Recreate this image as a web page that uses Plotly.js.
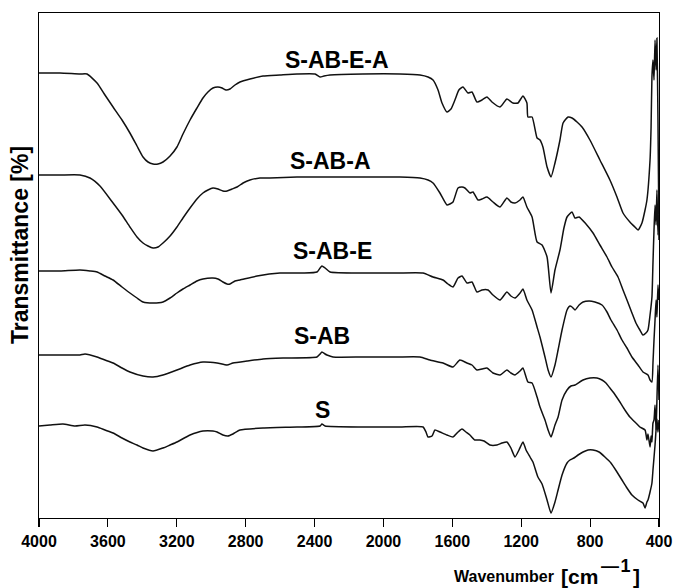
<!DOCTYPE html>
<html>
<head>
<meta charset="utf-8">
<script src="https://cdn.plot.ly/plotly-3.0.1.min.js"></script>
<style>
  html, body { margin: 0; padding: 0; background: #fff; }
  #chart { width: 676px; height: 588px; }
</style>
</head>
<body>
<div id="chart"></div>
<script>
// FTIR spectra, stacked with vertical offsets (transmittance, arbitrary units)

const wnA = [4000,3878,3762,3721,3663,3617,3570,3518,3472,3431,3396,3367,3338,3309,3280,3239,3199,3164,3123,3083,3048,3019,2990,2961,2937,2914,2891,2862,2833,2775,2699,2601,2502,2397,2368,2345,2310,2119,1904,1788,1741,1712,1683,1660,1631,1608,1585,1562,1538,1509,1486,1457,1428,1399,1370,1323,1283,1248,1219,1190,1167,1161,1137,1108,1091,1074,1050,1027,1004,975,957,928,905,876,847,801,743,685,644,609,569,540,522,499,481,470,452,446,441,435,429,423,417,412,406,400];
const tA  = [89.0,89.0,88.8,88.8,87.0,84.6,82.2,79.6,77.0,74.4,72.2,71.2,70.8,70.8,71.2,72.4,74.2,76.8,79.6,82.0,84.0,85.2,86.0,86.2,86.0,85.6,85.8,86.6,87.2,87.8,88.4,88.6,88.8,88.8,88.2,88.4,88.6,88.8,88.8,88.6,88.2,87.6,85.6,83.0,81.2,81.8,83.6,85.6,86.2,85.0,85.2,83.2,83.6,84.2,83.2,82.2,83.8,83.0,83.0,84.4,83.0,80.2,80.2,76.0,75.6,74.2,70.2,68.2,71.0,75.6,79.0,80.2,80.0,79.2,78.2,75.6,71.6,67.6,64.2,61.0,59.2,58.2,57.6,59.0,61.6,63.6,71.6,78.2,88.2,91.6,87.6,95.6,89.6,96.0,79.6,55.6];

const wnB = [4000,3878,3762,3704,3646,3570,3518,3472,3431,3396,3367,3338,3309,3280,3239,3199,3164,3123,3083,3048,3019,2990,2961,2932,2908,2879,2850,2815,2775,2717,2659,2502,2310,2119,1904,1788,1741,1712,1672,1631,1614,1596,1567,1544,1527,1498,1480,1451,1428,1399,1364,1323,1283,1260,1236,1207,1190,1167,1137,1108,1079,1050,1027,1004,975,952,934,905,888,864,824,783,743,702,673,638,609,586,557,534,511,493,476,464,452,441,435,429,423,417,412,406,400];
const tB  = [68.6,68.6,68.6,68.0,66.4,63.0,60.6,58.2,56.2,55.0,54.4,54.0,54.2,55.0,56.4,58.2,60.0,62.0,63.8,65.0,65.6,66.0,65.8,65.4,65.4,65.8,66.2,67.0,67.6,68.0,68.0,68.2,68.2,68.2,68.2,68.0,67.6,67.0,65.0,62.6,62.8,63.2,66.0,66.2,66.0,65.0,65.2,63.6,63.8,64.2,63.2,62.2,64.0,63.2,63.0,63.6,64.2,62.2,60.2,55.2,54.6,52.2,45.0,49.6,53.6,58.0,60.2,61.2,60.0,60.2,58.8,57.0,54.6,52.2,50.2,48.2,45.6,43.6,41.0,39.0,37.6,36.6,37.0,37.6,40.6,44.2,51.0,57.6,62.6,58.6,65.6,56.6,60.6];

const wnC = [4000,3878,3762,3704,3663,3617,3570,3518,3472,3431,3396,3338,3280,3239,3199,3164,3123,3083,3048,2990,2961,2932,2908,2891,2862,2833,2734,2601,2467,2386,2368,2357,2339,2310,2119,1921,1770,1712,1654,1625,1596,1567,1544,1515,1486,1457,1428,1393,1364,1323,1283,1260,1236,1207,1190,1167,1137,1108,1091,1062,1044,1027,1004,986,963,934,917,905,888,864,841,806,772,731,702,679,644,615,586,557,522,493,464,452,441,435,429,423,417,412,406,400];
const tC  = [49.4,49.4,49.6,49.4,49.2,48.4,47.6,46.2,45.0,44.0,43.2,43.0,43.2,44.0,45.0,45.8,46.6,47.4,47.8,48.0,47.8,47.2,46.8,46.8,47.4,47.6,48.4,49.0,49.0,49.2,50.0,50.4,50.0,49.2,49.0,49.0,49.0,48.2,47.6,46.8,46.2,48.0,48.4,47.0,47.2,45.2,45.6,45.6,44.6,43.6,45.2,44.4,44.0,45.0,45.8,43.6,41.6,38.2,36.2,32.2,29.6,28.2,30.6,33.6,37.6,41.6,42.4,42.2,41.6,42.6,43.2,43.4,43.2,42.6,41.2,39.6,37.6,35.6,34.0,32.2,30.6,29.2,28.6,27.6,27.2,31.0,35.6,39.6,43.6,40.2,46.6,43.6];

const wnD = [4000,3878,3762,3733,3663,3617,3570,3518,3472,3396,3338,3280,3199,3123,3048,2966,2908,2874,2792,2699,2583,2386,2368,2357,2339,2328,2293,2119,1921,1788,1730,1654,1596,1556,1515,1486,1457,1428,1399,1364,1323,1283,1260,1236,1207,1190,1161,1137,1108,1091,1062,1044,1027,1004,986,963,934,911,888,841,801,760,731,708,685,662,627,598,569,534,511,481,470,464,452,446,441,435,429,423,417,412,406,400];
const tD  = [32.6,32.6,32.6,32.8,32.2,31.6,31.0,30.0,29.2,28.4,28.2,28.6,29.6,30.6,31.2,31.0,30.6,31.0,31.4,31.8,32.0,32.2,32.8,33.2,32.8,32.6,32.2,32.2,32.2,32.2,31.6,31.0,30.2,31.6,31.0,30.6,29.6,29.8,30.0,29.0,28.6,29.6,29.0,28.6,29.4,30.0,27.2,27.0,24.2,22.2,19.6,17.6,16.2,18.6,20.2,23.6,25.6,26.4,26.6,27.6,28.0,28.0,27.6,27.0,26.0,25.0,23.2,21.6,20.2,19.0,18.2,17.6,15.6,16.8,14.2,16.4,15.2,19.0,19.6,22.6,17.6,23.6,30.6,23.6];

const wnE = [4000,3936,3861,3791,3733,3663,3617,3570,3518,3472,3431,3396,3338,3280,3239,3199,3123,3048,2990,2966,2932,2903,2874,2833,2699,2502,2368,2357,2339,2119,1904,1770,1753,1741,1718,1701,1672,1631,1596,1567,1544,1521,1498,1469,1440,1416,1382,1341,1312,1283,1260,1236,1213,1190,1172,1149,1132,1103,1079,1050,1027,1004,986,963,934,917,894,870,841,812,783,748,714,679,644,615,586,557,522,493,481,470,464,452,441,435,423,412,406,400];
const tE  = [18.4,18.6,18.8,18.4,18.6,18.2,17.6,17.0,16.0,15.2,14.6,14.0,13.4,14.0,14.6,15.2,16.6,17.4,17.4,17.2,16.6,16.4,16.8,17.6,18.0,18.2,18.4,18.8,18.4,18.2,18.2,18.2,17.2,16.2,16.4,17.6,17.2,16.6,16.2,17.2,17.8,17.2,16.6,15.6,15.6,15.4,14.6,14.6,15.0,15.2,14.0,12.2,13.6,15.2,13.6,12.2,11.2,8.2,6.8,3.6,1.0,3.2,5.6,8.6,11.0,11.6,12.0,12.6,13.2,13.6,13.6,13.2,12.2,11.0,9.2,7.6,6.0,4.6,3.6,3.0,2.0,3.2,3.6,5.2,7.0,9.6,14.6,19.8,17.2,19.6];

const sampleNames = ['S-AB-E-A', 'S-AB-A', 'S-AB-E', 'S-AB', 'S'];
const xTicks = [4000, 3600, 3200, 2800, 2400, 2000, 1600, 1200, 800, 400];

const spectra = [[wnA, tA], [wnB, tB], [wnC, tC], [wnD, tD], [wnE, tE]];
// label anchor (wavenumber, transmittance) for each sample name
const labelAt = [[2270, 91.6], [2305, 71.4], [2293, 53.4], [2357, 36.4], [2351, 21.6]];

const traces = spectra.map(([x, y], i) => ({
  type: 'scatter', mode: 'lines', x: x, y: y, name: sampleNames[i],
  line: { color: '#111', width: 1.5, shape: 'spline', smoothing: 0.5 },
  hoverinfo: 'skip'
}));

const FAM = 'Liberation Sans, Arial, sans-serif';
const annotations = sampleNames.map((n, i) => ({
  x: labelAt[i][0], y: labelAt[i][1], xref: 'x', yref: 'y',
  text: '<b>' + n + '</b>', showarrow: false,
  font: { family: FAM, size: 23, color: '#000' },
  xanchor: 'center', yanchor: 'middle'
}));

// plot area in pixels: left 39, right 659, top 13, bottom 518
const px = v => (v - 39) / 620;
const py = v => (518 - v) / 505;

annotations.push({
  xref: 'paper', yref: 'paper', x: px(20), y: py(245), xanchor: 'center', yanchor: 'middle',
  text: '<b>Transmittance [%]</b>', textangle: -90, showarrow: false,
  font: { family: FAM, size: 23, color: '#000' }
});
// x-axis title, assembled from pieces so the unit can carry a full-size exponent
annotations.push({
  xref: 'paper', yref: 'paper', x: px(452), y: py(576), xanchor: 'left', yanchor: 'middle',
  text: '<b>Wavenumber</b>', showarrow: false, font: { family: FAM, size: 16, color: '#000' }
});
annotations.push({
  xref: 'paper', yref: 'paper', x: px(559), y: py(576), xanchor: 'left', yanchor: 'middle',
  text: '<b>[cm</b>', showarrow: false, font: { family: FAM, size: 21, color: '#000' }
});
annotations.push({
  xref: 'paper', yref: 'paper', x: px(599), y: py(566), xanchor: 'left', yanchor: 'middle',
  text: '<b>\u2014\u200a1</b>', showarrow: false, font: { family: FAM, size: 18, color: '#000' }
});
annotations.push({
  xref: 'paper', yref: 'paper', x: px(631), y: py(576), xanchor: 'left', yanchor: 'middle',
  text: '<b>]</b>', showarrow: false, font: { family: FAM, size: 21, color: '#000' }
});

const layout = {
  width: 676, height: 588,
  margin: { l: 39, r: 17, t: 13, b: 70 },
  paper_bgcolor: '#fff', plot_bgcolor: '#fff',
  showlegend: false,
  xaxis: {
    range: [4000, 400], tickvals: xTicks, ticktext: xTicks.map(String),
    ticks: 'outside', ticklen: 8, tickwidth: 1.2, tickcolor: '#000',
    showline: true, linecolor: '#000', linewidth: 1.3, mirror: true,
    showgrid: false, zeroline: false,
    tickfont: { family: FAM, size: 16, color: '#000', weight: 'bold' }
  },
  yaxis: {
    range: [0, 101], showticklabels: false, ticks: '',
    showline: true, linecolor: '#000', linewidth: 1.3, mirror: true,
    showgrid: false, zeroline: false
  },
  annotations: annotations
};

Plotly.newPlot('chart', traces, layout, { staticPlot: true, displayModeBar: false });
</script>
</body>
</html>
